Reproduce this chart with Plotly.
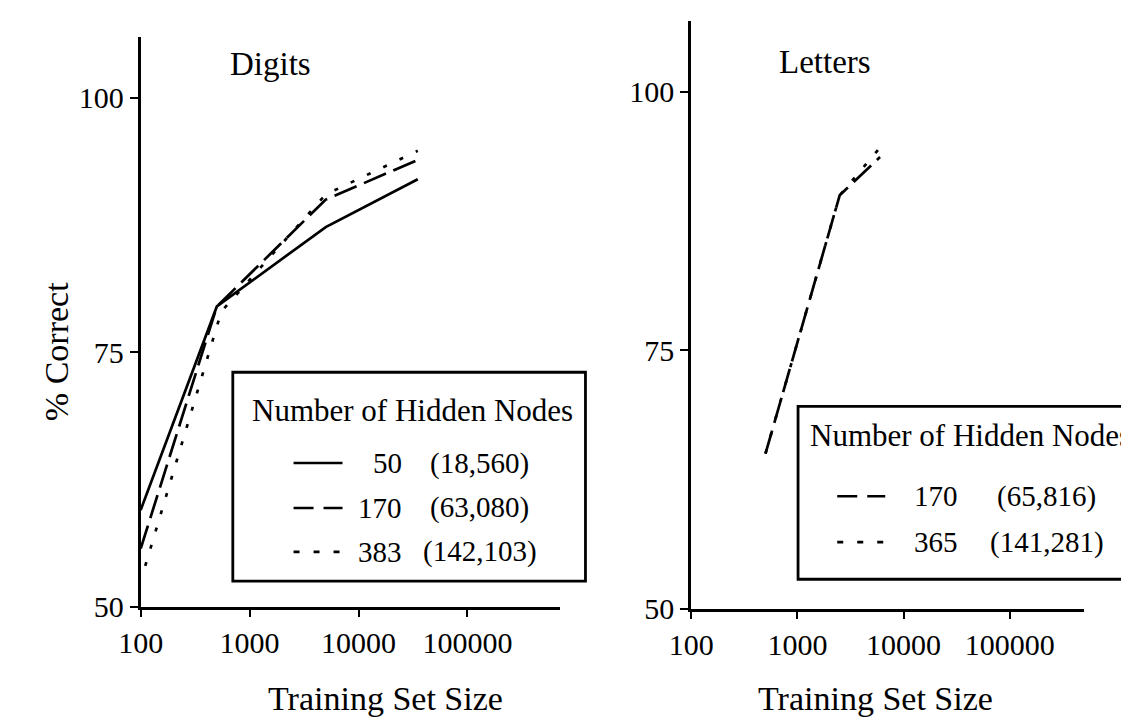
import plotly.graph_objects as go

# ---- data ----
digits_x_50 = [100, 500, 5000, 35000]
digits_y_50 = [59.5, 79.5, 87.3, 92.0]
digits_x_170 = [100, 500, 5000, 35000]
digits_y_170 = [55.7, 79.5, 90.0, 93.9]
digits_x_383 = [110, 550, 5000, 35000]
digits_y_383 = [54.0, 79.0, 90.5, 94.8]

letters_x_170 = [500, 2500, 6000]
letters_y_170 = [65.0, 90.0, 93.7]
letters_x_365 = [500, 2500, 6200]
letters_y_365 = [65.0, 90.0, 94.8]

x_ticks = [100, 1000, 10000, 100000]
x_tick_labels = ["100", "1000", "10000", "100000"]
y_ticks = [50, 75, 100]
y_tick_labels = ["50", "75", "100"]

digits_legend = [("50", "(18,560)", "solid"), ("170", "(63,080)", "dash"), ("383", "(142,103)", "dot")]
letters_legend = [("170", "(65,816)", "dash"), ("365", "(141,281)", "dot")]

W, H = 1129, 723
FONT = "Liberation Serif"
DASH = "24px,8px"
DOT = "4px,14px"
LEG_DASH = "20px,10px"
LEG_DOT = "6px,14px"
leg_dash_map = {"solid": "solid", "dash": LEG_DASH, "dot": LEG_DOT}


def px(x):
    return x / W


def py(y):
    return 1 - y / H


fig = go.Figure()

line_w = 2.7
fig.add_trace(go.Scatter(x=digits_x_50, y=digits_y_50, mode="lines",
                         line=dict(color="black", width=line_w), xaxis="x", yaxis="y"))
fig.add_trace(go.Scatter(x=digits_x_170, y=digits_y_170, mode="lines",
                         line=dict(color="black", width=line_w, dash=DASH), xaxis="x", yaxis="y"))
fig.add_trace(go.Scatter(x=digits_x_383, y=digits_y_383, mode="lines",
                         line=dict(color="black", width=line_w, dash=DOT), xaxis="x", yaxis="y"))
fig.add_trace(go.Scatter(x=letters_x_170, y=letters_y_170, mode="lines",
                         line=dict(color="black", width=line_w, dash=DASH), xaxis="x2", yaxis="y2"))
fig.add_trace(go.Scatter(x=letters_x_365, y=letters_y_365, mode="lines",
                         line=dict(color="black", width=line_w, dash=DOT), xaxis="x2", yaxis="y2"))

tickfont = dict(family=FONT, size=30, color="black")
axis_common = dict(showline=True, linecolor="black", linewidth=2.8, ticks="outside",
                   ticklen=8, tickwidth=2, tickcolor="black", showgrid=False, zeroline=False,
                   tickfont=tickfont)

fig.update_layout(
    width=W, height=H,
    margin=dict(l=0, r=0, t=0, b=0),
    paper_bgcolor="white", plot_bgcolor="white",
    showlegend=False,
    xaxis=dict(domain=[px(112), px(540)], type="log", range=[2, 5.85],
               tickvals=x_ticks, ticktext=x_tick_labels, anchor="y", **axis_common),
    yaxis=dict(domain=[py(613), py(30)], range=[50, 105.95],
               tickvals=y_ticks, ticktext=y_tick_labels, anchor="x", **axis_common),
    xaxis2=dict(domain=[px(674), px(1075)], type="log", range=[2, 5.7],
                tickvals=x_ticks, ticktext=x_tick_labels, anchor="y2", **axis_common),
    yaxis2=dict(domain=[py(615), py(13)], range=[50, 106.9],
                tickvals=y_ticks, ticktext=y_tick_labels, anchor="x2", **axis_common),
)

ann = []
shapes = []


def text(x, y, s, size, xanchor="center", angle=0):
    ann.append(dict(x=px(x), y=py(y), xref="paper", yref="paper", text=s, showarrow=False,
                    xanchor=xanchor, yanchor="middle", textangle=angle,
                    font=dict(family=FONT, size=size, color="black")))


# titles
text(244, 57, "Digits", 33)
text(811, 55, "Letters", 33)
text(26, 352, "% Correct", 34, angle=-90)
text(362, 707, "Training Set Size", 34)
text(862, 707, "Training Set Size", 34)

# left legend box
shapes.append(dict(type="rect", xref="paper", yref="paper", x0=px(206), x1=px(566),
                   y0=py(587), y1=py(373), line=dict(color="black", width=2.8)))
text(389, 412, "Number of Hidden Nodes", 31)
rows_y = [466, 512, 557]
for (n, w, d), yy in zip(digits_legend, rows_y):
    shapes.append(dict(type="line", xref="paper", yref="paper", x0=px(268), x1=px(318),
                       y0=py(yy), y1=py(yy), line=dict(color="black", width=2.6, dash=leg_dash_map[d])))
    text(381, yy, n, 29, xanchor="right")
    text(458, yy, w, 29)

# right legend box
shapes.append(dict(type="rect", xref="paper", yref="paper", x0=px(783), x1=px(1140),
                   y0=py(585), y1=py(408), line=dict(color="black", width=2.8)))
text(959, 438, "Number of Hidden Nodes", 31)
rows_y2 = [500, 547]
for (n, w, d), yy in zip(letters_legend, rows_y2):
    shapes.append(dict(type="line", xref="paper", yref="paper", x0=px(823), x1=px(872),
                       y0=py(yy), y1=py(yy), line=dict(color="black", width=2.6, dash=leg_dash_map[d])))
    text(948, yy, n, 29, xanchor="right")
    text(1037, yy, w, 29)

fig.update_layout(annotations=ann, shapes=shapes)
fig.write_html("out.html")
